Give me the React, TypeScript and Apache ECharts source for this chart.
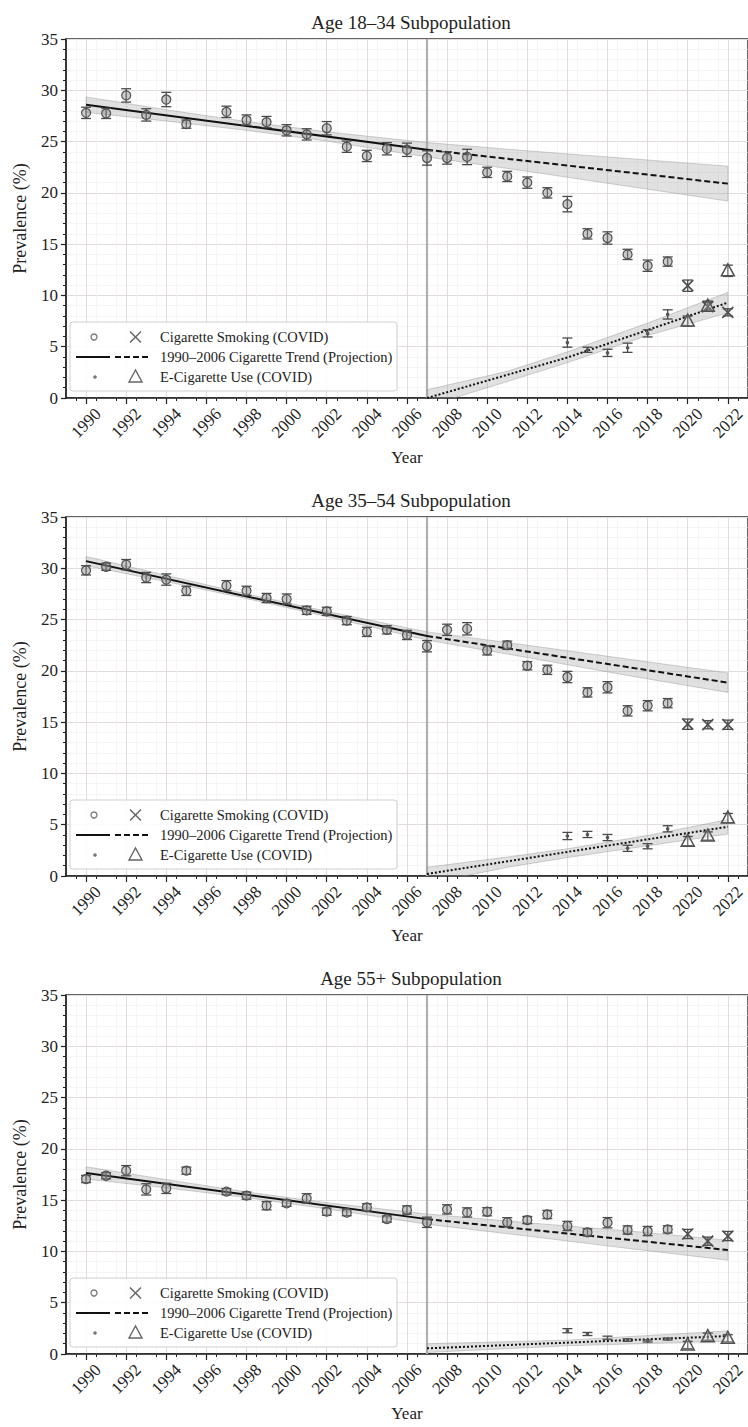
import React, { useEffect, useRef } from "react";
import * as echarts from "echarts";

const FONT = "'Liberation Serif', 'DejaVu Serif', 'Times New Roman', serif";

// ---------- shared axes / categories ----------
const PANEL_TITLES = ["Age 18–34 Subpopulation", "Age 35–54 Subpopulation", "Age 55+ Subpopulation"];
const X_TICK_YEARS = [1990, 1992, 1994, 1996, 1998, 2000, 2002, 2004, 2006, 2008, 2010, 2012, 2014, 2016, 2018, 2020, 2022];
const CIG_YEARS = [1990, 1991, 1992, 1993, 1994, 1995, 1997, 1998, 1999, 2000, 2001, 2002, 2003, 2004, 2005, 2006, 2007, 2008, 2009, 2010, 2011, 2012, 2013, 2014, 2015, 2016, 2017, 2018, 2019];
const COVID_YEARS = [2020, 2021, 2022];
const ECIG_YEARS = [2014, 2015, 2016, 2017, 2018, 2019];
const TREND_YEARS = [1990, 2007, 2022];
const BAND_YEARS = [1990, 1994, 1998, 2002, 2007, 2012, 2017, 2022];
const LEGEND_LABELS = ["Cigarette Smoking (COVID)", "1990–2006 Cigarette Trend (Projection)", "E-Cigarette Use (COVID)"];

// ---------- Panel 1: Age 18–34 ----------
const p1Cig = [27.8, 27.75, 29.5, 27.6, 29.1, 26.7, 27.9, 27.1, 26.9, 26.1, 25.7, 26.3, 24.5, 23.6, 24.3, 24.2, 23.4, 23.4, 23.5, 22.0, 21.6, 21.0, 20.0, 18.9, 16.0, 15.6, 14.0, 12.9, 13.3];
const p1CigErr = [0.55, 0.5, 0.65, 0.6, 0.7, 0.4, 0.55, 0.5, 0.55, 0.55, 0.55, 0.65, 0.55, 0.55, 0.6, 0.65, 0.7, 0.6, 0.75, 0.5, 0.5, 0.55, 0.5, 0.75, 0.5, 0.6, 0.5, 0.55, 0.45];
const p1CovidCig = [10.95, 8.9, 8.35];
const p1CovidCigErr = [0.55, 0.45, 0.35];
const p1Ecig = [5.4, 4.7, 4.4, 4.9, 6.3, 8.15];
const p1EcigErr = [0.45, 0.25, 0.35, 0.45, 0.35, 0.45];
const p1CovidEcig = [7.5, 8.95, 12.4];
const p1CovidEcigErr = [0.5, 0.5, 0.55];
const p1Trend = [28.6, 24.2, 20.9];
const p1BandLow = [27.85, 27.0, 26.1, 25.05, 23.5, 22.1, 20.65, 19.2];
const p1BandHigh = [29.35, 28.1, 26.95, 25.95, 24.9, 24.1, 23.35, 22.6];
const p1EcigTrendYears = [2007, 2014, 2022];
const p1EcigTrend = [0.0, 3.95, 9.3];
const p1EcigBandYears = [2007, 2011, 2014, 2018, 2022];
const p1EcigBandLow = [-0.8, 1.6, 3.45, 6.1, 8.3];
const p1EcigBandHigh = [0.8, 2.6, 4.5, 7.3, 10.3];

// ---------- Panel 2: Age 35–54 ----------
const p2Cig = [29.8, 30.15, 30.35, 29.1, 28.9, 27.8, 28.3, 27.8, 27.1, 27.0, 25.9, 25.8, 24.9, 23.8, 24.0, 23.5, 22.4, 24.0, 24.1, 22.0, 22.5, 20.5, 20.1, 19.4, 17.9, 18.4, 16.1, 16.6, 16.85];
const p2CigErr = [0.45, 0.35, 0.5, 0.5, 0.55, 0.45, 0.5, 0.45, 0.45, 0.5, 0.4, 0.4, 0.4, 0.45, 0.4, 0.45, 0.55, 0.55, 0.6, 0.45, 0.4, 0.4, 0.45, 0.55, 0.45, 0.55, 0.5, 0.5, 0.45];
const p2CovidCig = [14.8, 14.75, 14.75];
const p2CovidCigErr = [0.5, 0.4, 0.45];
const p2Ecig = [3.9, 4.05, 3.75, 2.7, 2.9, 4.6];
const p2EcigErr = [0.35, 0.3, 0.3, 0.3, 0.25, 0.3];
const p2CovidEcig = [3.4, 3.9, 5.65];
const p2CovidEcigErr = [0.45, 0.4, 0.45];
const p2Trend = [30.7, 23.4, 18.85];
const p2BandLow = [30.25, 28.7, 27.05, 25.3, 23.0, 21.3, 19.55, 17.9];
const p2BandHigh = [31.15, 29.3, 27.5, 25.8, 23.8, 22.5, 21.15, 19.8];
const p2EcigTrendYears = [2007, 2022];
const p2EcigTrend = [0.2, 4.8];
const p2EcigBandYears = [2007, 2011, 2014, 2018, 2022];
const p2EcigBandLow = [-0.75, 0.85, 1.8, 2.95, 4.1];
const p2EcigBandHigh = [0.85, 1.85, 2.65, 3.95, 5.5];

// ---------- Panel 3: Age 55+ ----------
const p3Cig = [17.06, 17.38, 17.87, 16.05, 16.15, 17.87, 15.83, 15.44, 14.46, 14.69, 15.18, 13.88, 13.78, 14.3, 13.16, 14.04, 12.84, 14.1, 13.8, 13.87, 12.84, 13.06, 13.6, 12.48, 11.86, 12.8, 12.09, 11.99, 12.15];
const p3CigErr = [0.35, 0.3, 0.5, 0.55, 0.5, 0.35, 0.3, 0.35, 0.4, 0.3, 0.45, 0.35, 0.3, 0.35, 0.3, 0.4, 0.5, 0.45, 0.45, 0.4, 0.45, 0.35, 0.4, 0.45, 0.35, 0.5, 0.4, 0.45, 0.35];
const p3CovidCig = [11.7, 11.0, 11.5];
const p3CovidCigErr = [0.45, 0.4, 0.45];
const p3Ecig = [2.27, 1.95, 1.59, 1.36, 1.27, 1.46];
const p3EcigErr = [0.2, 0.15, 0.15, 0.12, 0.1, 0.1];
const p3CovidEcig = [0.88, 1.69, 1.53];
const p3CovidEcigErr = [0.35, 0.35, 0.35];
const p3Trend = [17.64, 13.15, 10.14];
const p3BandLow = [17.05, 16.2, 15.25, 14.15, 12.65, 11.5, 10.3, 9.15];
const p3BandHigh = [18.25, 17.0, 15.8, 14.75, 13.65, 12.8, 12.0, 11.1];
const p3EcigTrendYears = [2007, 2022];
const p3EcigTrend = [0.55, 1.75];
const p3EcigBandYears = [2007, 2014, 2022];
const p3EcigBandLow = [0.15, 0.8, 1.25];
const p3EcigBandHigh = [1.0, 1.35, 2.25];

const PANELS = [
  { cig: p1Cig, cigErr: p1CigErr, covidCig: p1CovidCig, covidCigErr: p1CovidCigErr, ecig: p1Ecig, ecigErr: p1EcigErr, covidEcig: p1CovidEcig, covidEcigErr: p1CovidEcigErr, trend: p1Trend, bandLow: p1BandLow, bandHigh: p1BandHigh, eTrendYears: p1EcigTrendYears, eTrend: p1EcigTrend, eBandYears: p1EcigBandYears, eBandLow: p1EcigBandLow, eBandHigh: p1EcigBandHigh },
  { cig: p2Cig, cigErr: p2CigErr, covidCig: p2CovidCig, covidCigErr: p2CovidCigErr, ecig: p2Ecig, ecigErr: p2EcigErr, covidEcig: p2CovidEcig, covidEcigErr: p2CovidEcigErr, trend: p2Trend, bandLow: p2BandLow, bandHigh: p2BandHigh, eTrendYears: p2EcigTrendYears, eTrend: p2EcigTrend, eBandYears: p2EcigBandYears, eBandLow: p2EcigBandLow, eBandHigh: p2EcigBandHigh },
  { cig: p3Cig, cigErr: p3CigErr, covidCig: p3CovidCig, covidCigErr: p3CovidCigErr, ecig: p3Ecig, ecigErr: p3EcigErr, covidEcig: p3CovidEcig, covidEcigErr: p3CovidEcigErr, trend: p3Trend, bandLow: p3BandLow, bandHigh: p3BandHigh, eTrendYears: p3EcigTrendYears, eTrend: p3EcigTrend, eBandYears: p3EcigBandYears, eBandLow: p3EcigBandLow, eBandHigh: p3EcigBandHigh },
];

// ---------- layout ----------
const GRID_TOPS = [39, 517, 995];
const GRID_H = 359;
const GRID_LEFT = 66;
const GRID_W = 682;

const EB_COLOR = "#4a4a4a";

function markerShapes(kind: string, cx: number, cy: number): any[] {
  if (kind === "circle") {
    return [{ type: "circle", shape: { cx, cy, r: 4.5 }, style: { fill: "rgba(140,140,140,0.45)", stroke: "#505050", lineWidth: 1.2 } }];
  }
  if (kind === "x") {
    const s = 5.5;
    const st = { stroke: "#505050", lineWidth: 1.7 };
    return [
      { type: "line", shape: { x1: cx - s, y1: cy - s, x2: cx + s, y2: cy + s }, style: st },
      { type: "line", shape: { x1: cx - s, y1: cy + s, x2: cx + s, y2: cy - s }, style: st },
    ];
  }
  if (kind === "triangle") {
    return [{ type: "polygon", shape: { points: [[cx, cy - 7], [cx - 6.5, cy + 5], [cx + 6.5, cy + 5]] }, style: { fill: "rgba(255,255,255,0.2)", stroke: "#505050", lineWidth: 1.5 } }];
  }
  return [{ type: "circle", shape: { cx, cy, r: 1.8 }, style: { fill: "#555" } }];
}

function errSeries(idx: number, years: number[], vals: number[], errs: number[], kind: string) {
  return {
    type: "custom",
    xAxisIndex: idx,
    yAxisIndex: idx,
    clip: true,
    z: 6,
    silent: true,
    data: years.map((y, i) => [y, vals[i], errs[i]]),
    encode: { x: 0, y: 1 },
    renderItem: (params: any, api: any) => {
      const x = api.value(0);
      const v = api.value(1);
      const e = api.value(2);
      const c = api.coord([x, v]);
      const yt = api.coord([x, v + e])[1];
      const yb = api.coord([x, v - e])[1];
      const st = { stroke: EB_COLOR, lineWidth: 1.3 };
      const cap = 5;
      return {
        type: "group",
        children: [
          { type: "line", shape: { x1: c[0], y1: yt, x2: c[0], y2: yb }, style: st },
          { type: "line", shape: { x1: c[0] - cap, y1: yt, x2: c[0] + cap, y2: yt }, style: st },
          { type: "line", shape: { x1: c[0] - cap, y1: yb, x2: c[0] + cap, y2: yb }, style: st },
          ...markerShapes(kind, c[0], c[1]),
        ],
      };
    },
  };
}

function bandSeries(idx: number, years: number[], low: number[], high: number[]) {
  return {
    type: "custom",
    xAxisIndex: idx,
    yAxisIndex: idx,
    clip: true,
    z: 2,
    silent: true,
    data: [[years[0], high[0]]],
    encode: { x: 0, y: 1 },
    renderItem: (params: any, api: any) => {
      const pts: number[][] = [];
      for (let i = 0; i < years.length; i++) pts.push(api.coord([years[i], high[i]]));
      for (let i = years.length - 1; i >= 0; i--) pts.push(api.coord([years[i], low[i]]));
      const cs = params.coordSys;
      return {
        type: "polygon",
        shape: { points: pts },
        clipPath: { type: "rect", shape: { x: cs.x, y: cs.y, width: cs.width, height: cs.height } },
        style: { fill: "rgba(165,165,165,0.33)", stroke: "rgba(150,150,150,0.55)", lineWidth: 0.8 },
      };
    },
  };
}

function lineSeries(idx: number, data: number[][], type: any, extra: any = {}) {
  return {
    type: "line",
    xAxisIndex: idx,
    yAxisIndex: idx,
    data,
    symbol: "none",
    silent: true,
    z: 4,
    lineStyle: { color: "#111", width: 2, type },
    ...extra,
  };
}

function legendGraphic(bottom: number): any {
  const left = 70;
  const top = bottom - 76;
  const rows = [15, 35, 55];
  const Z = 100;
  const txt = (y: number, s: string) => ({
    type: "text",
    z: Z + 1,
    x: 90,
    y,
    style: { text: s, font: `14.5px ${FONT}`, fill: "#222", verticalAlign: "middle", textVerticalAlign: "middle" },
  });
  const gs = { stroke: "#666", lineWidth: 1.5 };
  return {
    type: "group",
    x: left,
    y: top,
    z: Z,
    children: [
      { type: "rect", z: Z, shape: { x: 0, y: 0, width: 327, height: 69, r: 3 }, style: { fill: "rgba(255,255,255,0.88)", stroke: "#cfcfcf", lineWidth: 1 } },
      { type: "circle", z: Z + 1, shape: { cx: 24, cy: rows[0], r: 3 }, style: { fill: "none", stroke: "#777", lineWidth: 1.3 } },
      { type: "line", z: Z + 1, shape: { x1: 60, y1: rows[0] - 5.5, x2: 71, y2: rows[0] + 5.5 }, style: gs },
      { type: "line", z: Z + 1, shape: { x1: 60, y1: rows[0] + 5.5, x2: 71, y2: rows[0] - 5.5 }, style: gs },
      txt(rows[0], LEGEND_LABELS[0]),
      { type: "line", z: Z + 1, shape: { x1: 6, y1: rows[1], x2: 40, y2: rows[1] }, style: { stroke: "#111", lineWidth: 2 } },
      { type: "line", z: Z + 1, shape: { x1: 45, y1: rows[1], x2: 79, y2: rows[1] }, style: { stroke: "#111", lineWidth: 2, lineDash: [6, 3] } },
      txt(rows[1], LEGEND_LABELS[1]),
      { type: "circle", z: Z + 1, shape: { cx: 25, cy: rows[2], r: 1.8 }, style: { fill: "#777" } },
      { type: "polygon", z: Z + 1, shape: { points: [[65.5, rows[2] - 7], [59, rows[2] + 5], [72, rows[2] + 5]] }, style: { fill: "none", stroke: "#666", lineWidth: 1.4 } },
      txt(rows[2], LEGEND_LABELS[2]),
    ],
  };
}

function buildOption() {
  const grids: any[] = [];
  const xAxes: any[] = [];
  const yAxes: any[] = [];
  const series: any[] = [];
  const titles: any[] = [];
  const graphics: any[] = [];
  const axisText = { fontFamily: FONT, fontSize: 17, color: "#222" };

  PANELS.forEach((p, i) => {
    const top = GRID_TOPS[i];
    grids.push({ left: GRID_LEFT, top, width: GRID_W, height: GRID_H, show: true, borderColor: "#333", borderWidth: 1.3, backgroundColor: "transparent" });
    titles.push({ text: PANEL_TITLES[i], left: GRID_LEFT + GRID_W / 2 - 1, top: top - 31, textAlign: "center", textStyle: { fontFamily: FONT, fontSize: 19, fontWeight: "normal", color: "#222" } });
    xAxes.push({
      gridIndex: i,
      type: "value",
      min: 1989,
      max: 2023,
      interval: 1,
      name: "Year",
      nameLocation: "middle",
      nameGap: 51,
      nameTextStyle: { ...axisText },
      axisLine: { show: true, onZero: false, lineStyle: { color: "#222", width: 1.5 } },
      axisTick: { show: true, customValues: X_TICK_YEARS, length: 6, lineStyle: { color: "#222", width: 1.2 } },
      minorTick: { show: true, splitNumber: 2, length: 3, lineStyle: { color: "#222", width: 1 } },
      axisLabel: { customValues: X_TICK_YEARS, formatter: (v: number) => String(v), rotate: 45, align: "center", verticalAlign: "middle", margin: 25, ...axisText, fontSize: 17 },
      splitLine: { show: true, lineStyle: { color: "#e3dcdc", width: 1 } },
      minorSplitLine: { show: true, lineStyle: { color: "#f4f1f1", width: 0.8 } },
    });
    yAxes.push({
      gridIndex: i,
      type: "value",
      min: 0,
      max: 35,
      interval: 5,
      name: "Prevalence (%)",
      nameLocation: "middle",
      nameGap: 37,
      nameRotate: 90,
      nameTextStyle: { ...axisText, fontSize: 18 },
      axisLine: { show: true, onZero: false, lineStyle: { color: "#222", width: 1.5 } },
      axisTick: { show: true, length: 5, lineStyle: { color: "#222", width: 1.2 } },
      minorTick: { show: true, splitNumber: 5, length: 3, lineStyle: { color: "#222", width: 1 } },
      axisLabel: { ...axisText, margin: 8 },
      splitLine: { show: true, lineStyle: { color: "#e3dcdc", width: 1 } },
      minorSplitLine: { show: true, lineStyle: { color: "#f4f1f1", width: 0.8 } },
    });

    series.push(bandSeries(i, BAND_YEARS, p.bandLow, p.bandHigh));
    series.push(bandSeries(i, p.eBandYears, p.eBandLow, p.eBandHigh));
    series.push(
      lineSeries(i, [[TREND_YEARS[0], p.trend[0]], [TREND_YEARS[1], p.trend[1]]], "solid", {
        markLine: {
          silent: true,
          symbol: "none",
          label: { show: false },
          z: 1,
          lineStyle: { color: "#b0b0b0", width: 2.2, type: "solid" },
          data: [{ xAxis: 2007 }],
        },
      })
    );
    series.push(lineSeries(i, [[TREND_YEARS[1], p.trend[1]], [TREND_YEARS[2], p.trend[2]]], [6, 3]));
    series.push(lineSeries(i, p.eTrendYears.map((y, k) => [y, p.eTrend[k]]), [2, 2]));
    series.push(errSeries(i, CIG_YEARS, p.cig, p.cigErr, "circle"));
    series.push(errSeries(i, COVID_YEARS, p.covidCig, p.covidCigErr, "x"));
    series.push(errSeries(i, ECIG_YEARS, p.ecig, p.ecigErr, "dot"));
    series.push(errSeries(i, COVID_YEARS, p.covidEcig, p.covidEcigErr, "triangle"));

    graphics.push(legendGraphic(top + GRID_H));
  });

  return {
    animation: false,
    backgroundColor: "#ffffff",
    title: titles,
    grid: grids,
    xAxis: xAxes,
    yAxis: yAxes,
    series,
    graphic: graphics,
  };
}

export default function App() {
  const ref = useRef<HTMLDivElement>(null);
  useEffect(() => {
    if (!ref.current) return;
    const chart = echarts.init(ref.current, null, { renderer: "svg" });
    chart.setOption(buildOption() as any);
    return () => chart.dispose();
  }, []);
  return <div ref={ref} style={{ position: "absolute", left: 0, top: 0, width: 748, height: 1427, background: "#fff" }} />;
}
